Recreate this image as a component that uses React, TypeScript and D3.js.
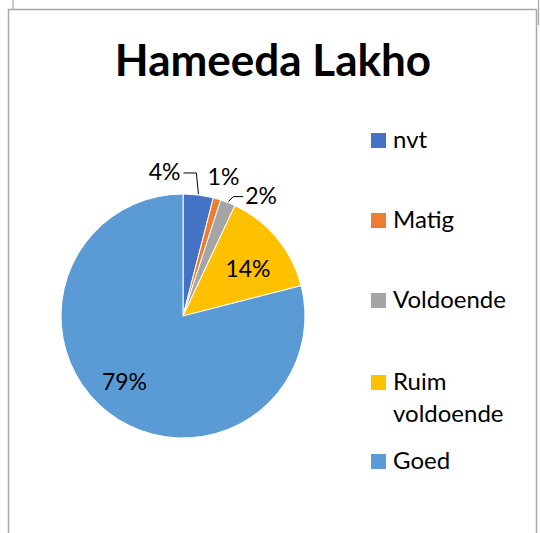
import React from "react";
import * as d3 from "d3";

const categories = ["nvt", "Matig", "Voldoende", "Ruim voldoende", "Goed"];
const values = [4, 1, 2, 14, 79];
const labels = ["4%", "1%", "2%", "14%", "79%"];
const colors = ["#4472C4", "#ED7D31", "#A5A5A5", "#FFC000", "#5B9BD5"];
const title = "Hameeda Lakho";

const W = 540;
const H = 533;
const cx = 183;
const cy = 316;
const R = 122;
const font = "Lato, 'Open Sans', sans-serif";

export default function App() {
  const pie = d3.pie<number>().sort(null).value((d) => d);
  const arcs = pie(values);
  const arc = d3.arc<d3.PieArcDatum<number>>().innerRadius(0).outerRadius(R);

  const polar = (a: number, r: number): [number, number] => [
    Math.sin(a) * r,
    -Math.cos(a) * r,
  ];
  const mid = (d: d3.PieArcDatum<number>) => (d.startAngle + d.endAngle) / 2;

  // label placement: inside ones at fraction of R, small ones outside
  const inside = (d: d3.PieArcDatum<number>, f: number, da = 0) =>
    polar(mid(d) + da, R * f);

  const legendY = d3.scaleOrdinal<string, number>().domain(categories).range([148, 228, 308, 390, 469]);

  return (
    <svg
      width={W}
      height={H}
      style={{ position: "absolute", left: 0, top: 0, background: "#fff" }}
    >
      {/* bits of the frame behind */}
      <g stroke="#a6a6a6" strokeWidth={1.2}>
        <line x1={13} y1={0} x2={13} y2={9} />
        <line x1={538.5} y1={0} x2={538.5} y2={25} />
      </g>
      {/* front frame */}
      <rect x={8.5} y={9.5} width={528} height={540} fill="#fff" stroke="#a6a6a6" strokeWidth={1.5} />
      <text
        x={273}
        y={76}
        textAnchor="middle"
        fontFamily={font}
        fontWeight="bold"
        fontSize={44}
        fill="#000"
      >
        {title}
      </text>
      <g transform={`translate(${cx},${cy})`}>
        {arcs.map((d, i) => (
          <path key={i} d={arc(d) || ""} fill={colors[i]} stroke="#fff" strokeWidth={1} />
        ))}
        {/* leader lines */}
        {(() => {
          const a0 = polar(mid(arcs[0]), R + 1);
          const a2 = polar(mid(arcs[2]), R + 1);
          return (
            <g fill="none" stroke="#000" strokeWidth={1}>
              <polyline points={`${a0[0]},${a0[1]} ${a0[0] - 2},${a0[1] - 21} ${a0[0] - 15},${a0[1] - 21}`} />
              <polyline points={`${a2[0]},${a2[1]} ${a2[0] + 5},${a2[1] - 5} ${a2[0] + 15},${a2[1] - 5}`} />
            </g>
          );
        })()}
        <g fontFamily={font} fontSize={23} fill="#000">
          {(() => {
            const p0 = polar(mid(arcs[0]), R + 1);
            const p1 = inside(arcs[1], 1.19);
            const p2 = polar(mid(arcs[2]), R + 1);
            const p3 = inside(arcs[3], 0.66, 0.06);
            const p4 = inside(arcs[4], 0.72, 0.07);
            return (
              <>
                <text x={p0[0] - 18} y={p0[1] - 22} dy="0.35em" textAnchor="end">{labels[0]}</text>
                <text x={p1[0]} y={p1[1]} dy="0.35em" textAnchor="middle">{labels[1]}</text>
                <text x={p2[0] + 17} y={p2[1] - 6} dy="0.35em" textAnchor="start">{labels[2]}</text>
                <text x={p3[0]} y={p3[1]} dy="0.35em" textAnchor="middle">{labels[3]}</text>
                <text x={p4[0]} y={p4[1]} dy="0.35em" textAnchor="middle">{labels[4]}</text>
              </>
            );
          })()}
        </g>
      </g>
      <g fontFamily={font} fontSize={24} fill="#000">
        {categories.map((c, i) => {
          const y = legendY(c);
          const lines = c === "Ruim voldoende" ? ["Ruim", "voldoende"] : [c];
          return (
            <g key={c}>
              <rect x={371} y={y - 15} width={15} height={15} fill={colors[i]} />
              {lines.map((l, j) => (
                <text key={j} x={393} y={y + j * 32}>{l}</text>
              ))}
            </g>
          );
        })}
      </g>
    </svg>
  );
}
